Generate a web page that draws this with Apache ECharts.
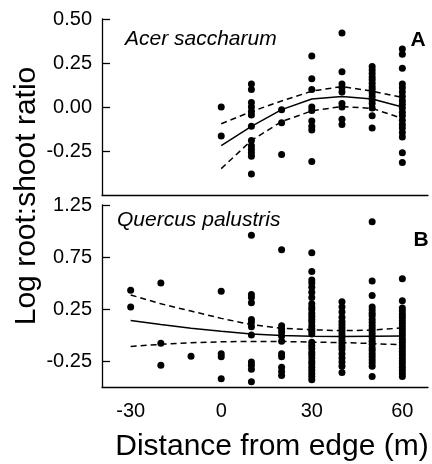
<!DOCTYPE html>
<html>
<head>
<meta charset="utf-8">
<script src="https://cdn.jsdelivr.net/npm/echarts@6/dist/echarts.min.js"></script>
<style>
  html, body { margin: 0; padding: 0; background: #fff; }
  #chart { width: 432px; height: 464px; }
</style>
</head>
<body>
<div id="chart"></div>
<script>
// ---------- Panel A: Acer saccharum ----------
const acerDistances = [0, 10, 20, 30, 40, 50, 60];
const acer0  = [0.00, -0.165];
const acer10 = [0.13, 0.10, 0.025, 0.0, -0.025, -0.045, -0.11, -0.19, -0.22, -0.24, -0.26, -0.28, -0.38];
const acer20 = [-0.015, -0.09, -0.27];
const acer30 = [0.29, 0.16, 0.10, 0.0, -0.02, -0.08, -0.11, -0.13, -0.31];
const acer40 = [0.42, 0.20, 0.13, 0.11, 0.085, 0.02, 0.0, -0.07, -0.10];
const acer50 = [0.23, 0.21, 0.19, 0.17, 0.155, 0.135, 0.115, 0.10, 0.08, 0.06, 0.04, 0.02, -0.005, -0.05, -0.12];
const acer60 = [0.33, 0.30, 0.22, 0.13, 0.11, 0.085, 0.06, 0.035, 0.015, -0.005, -0.03, -0.05, -0.075, -0.10, -0.12, -0.145, -0.17, -0.26, -0.315];
const acerColumns = [acer0, acer10, acer20, acer30, acer40, acer50, acer60];
const acerFit   = [-0.22, -0.11, -0.015, 0.045, 0.06, 0.045, 0.0];
const acerUpper = [-0.095, -0.026, 0.034, 0.09, 0.116, 0.09, 0.055];
const acerLower = [-0.35, -0.19, -0.083, -0.022, 0.003, -0.008, -0.065];

// ---------- Panel B: Quercus palustris ----------
const quercusDistances = [-30, -20, -10, 0, 10, 20, 30, 40, 50, 60];
const quercusM30 = [0.43, 0.27];
const quercusM20 = [0.50, -0.08, -0.29];
const quercusM10 = [-0.205];
const quercus0  = [0.42, -0.18, -0.21, -0.42];
const quercus10 = [0.96, 0.39, 0.36, 0.31, 0.15, 0.12, 0.08, 0.0, -0.26, -0.29, -0.33, -0.45];
const quercus20 = [0.82, 0.09, 0.06, 0.03, -0.01, -0.06, -0.18, -0.21, -0.31, -0.35, -0.39];
const quercus30 = [0.79, 0.61, 0.53, 0.50, 0.46, 0.41, 0.36, 0.30, 0.27, 0.245, 0.21, 0.18, 0.15, 0.125, 0.09, 0.06, 0.035, 0.01,
                   -0.07, -0.10, -0.13, -0.165, -0.19, -0.22, -0.255, -0.28, -0.31, -0.34, -0.37, -0.40, -0.43];
const quercus40 = [0.32, 0.27, 0.22, 0.17, 0.13, 0.10, 0.07, 0.04, 0.01, -0.02, -0.05, -0.08, -0.11, -0.14, -0.18, -0.22, -0.26, -0.30, -0.36];
const quercus50 = [1.09, 0.52, 0.38, 0.27, 0.24, 0.21, 0.185, 0.15, 0.12, 0.09, 0.06, 0.03, 0.0, -0.03, -0.06, -0.09, -0.125, -0.15, -0.18, -0.21, -0.24, -0.27, -0.30, -0.40];
const quercus60 = [0.54, 0.33, 0.26, 0.23, 0.20, 0.17, 0.14, 0.11, 0.08, 0.05, 0.02, -0.01, -0.04, -0.07, -0.10, -0.13, -0.16, -0.19, -0.22, -0.25, -0.28, -0.31, -0.34, -0.37, -0.40];
const quercusColumns = [quercusM30, quercusM20, quercusM10, quercus0, quercus10, quercus20, quercus30, quercus40, quercus50, quercus60];
const quercusFit   = [0.14, 0.10, 0.065, 0.035, 0.01, -0.005, -0.012, -0.015, -0.013, -0.01];
const quercusUpper = [0.385, 0.30, 0.23, 0.16, 0.10, 0.065, 0.05, 0.042, 0.047, 0.068];
const quercusLower = [-0.11, -0.09, -0.075, -0.065, -0.062, -0.062, -0.068, -0.073, -0.082, -0.095];

// ---------- Axis tick labels ----------
const xTickValues = [-30, 0, 30, 60];
const acerYTicks = [-0.25, 0, 0.25, 0.5];
const quercusYTicks = [-0.25, 0.25, 0.75, 1.25];

// ---------- build ----------
function points(dists, cols) {
  const out = [];
  dists.forEach((d, i) => cols[i].forEach(v => out.push([d, v])));
  return out;
}
function pairs(xs, ys) { return xs.map((x, i) => [x, ys[i]]); }

const FONT = 'Liberation Sans, Arial, sans-serif';
const chart = echarts.init(document.getElementById('chart'), null, { renderer: 'canvas' });

const yAxisBase = {
  type: 'value',
  axisLine: { show: true, onZero: false, lineStyle: { color: '#000', width: 1.3 } },
  axisTick: { show: true, inside: true, length: 8, lineStyle: { color: '#000', width: 1.3 } },
  axisLabel: { color: '#000', fontSize: 20, fontFamily: FONT, margin: 10, formatter: v => v.toFixed(2) },
  splitLine: { show: false }
};
const xAxisBase = {
  type: 'value', min: -39.5, max: 68.5,
  axisLine: { show: true, onZero: false, lineStyle: { color: '#000', width: 1.3 } },
  axisTick: { show: false },
  splitLine: { show: false }
};
const lineSolid = { color: '#000', width: 1.5, type: 'solid' };
const lineDash = { color: '#000', width: 1.5, type: [6, 4] };
const dotStyle = { color: '#000', opacity: 1 };

chart.setOption({
  animation: false,
  backgroundColor: '#fff',
  grid: [
    { left: 102, right: 4, top: 19, height: 176 },
    { left: 102, right: 4, top: 205, height: 182 }
  ],
  xAxis: [
    Object.assign({}, xAxisBase, { gridIndex: 0, axisLabel: { show: false } }),
    Object.assign({}, xAxisBase, {
      gridIndex: 1,
      axisLabel: { color: '#000', fontSize: 20, fontFamily: FONT, margin: 14, customValues: xTickValues },
      name: 'Distance from edge (m)', nameLocation: 'middle', nameGap: 45,
      nameTextStyle: { color: '#000', fontSize: 30, fontFamily: FONT, padding: [0, 0, 0, 14] }
    })
  ],
  yAxis: [
    Object.assign({}, yAxisBase, {
      gridIndex: 0, min: -0.5, max: 0.5,
      axisTick: Object.assign({}, yAxisBase.axisTick, { customValues: acerYTicks }),
      axisLabel: Object.assign({}, yAxisBase.axisLabel, { customValues: acerYTicks })
    }),
    Object.assign({}, yAxisBase, {
      gridIndex: 1, min: -0.5, max: 1.25,
      axisTick: Object.assign({}, yAxisBase.axisTick, { customValues: quercusYTicks }),
      axisLabel: Object.assign({}, yAxisBase.axisLabel, { customValues: quercusYTicks })
    })
  ],
  graphic: [
    { type: 'text', x: 27, y: 196, rotation: Math.PI / 2,
      style: { text: 'Log root:shoot ratio', x: 0, y: 0, fill: '#000', font: '30px ' + FONT, textAlign: 'center', textVerticalAlign: 'middle' } },
    { type: 'text', style: { text: 'Acer saccharum', x: 125, y: 39, fill: '#000', font: 'italic 21px ' + FONT, textVerticalAlign: 'middle' } },
    { type: 'text', style: { text: 'A', x: 418, y: 40, fill: '#000', font: 'bold 21px ' + FONT, textAlign: 'center', textVerticalAlign: 'middle' } },
    { type: 'text', style: { text: 'Quercus palustris', x: 117, y: 220, fill: '#000', font: 'italic 21px ' + FONT, textVerticalAlign: 'middle' } },
    { type: 'text', style: { text: 'B', x: 421, y: 240, fill: '#000', font: 'bold 21px ' + FONT, textAlign: 'center', textVerticalAlign: 'middle' } }
  ],
  series: [
    { type: 'scatter', xAxisIndex: 0, yAxisIndex: 0, data: points(acerDistances, acerColumns),
      symbol: 'circle', symbolSize: 7, itemStyle: dotStyle },
    { type: 'line', xAxisIndex: 0, yAxisIndex: 0, data: pairs(acerDistances, acerFit), showSymbol: false, lineStyle: lineSolid },
    { type: 'line', xAxisIndex: 0, yAxisIndex: 0, data: pairs(acerDistances, acerUpper), showSymbol: false, lineStyle: lineDash },
    { type: 'line', xAxisIndex: 0, yAxisIndex: 0, data: pairs(acerDistances, acerLower), showSymbol: false, lineStyle: lineDash },
    { type: 'scatter', xAxisIndex: 1, yAxisIndex: 1, data: points(quercusDistances, quercusColumns),
      symbol: 'circle', symbolSize: 7, itemStyle: dotStyle },
    { type: 'line', xAxisIndex: 1, yAxisIndex: 1, data: pairs(quercusDistances, quercusFit), showSymbol: false, lineStyle: lineSolid },
    { type: 'line', xAxisIndex: 1, yAxisIndex: 1, data: pairs(quercusDistances, quercusUpper), showSymbol: false, lineStyle: lineDash },
    { type: 'line', xAxisIndex: 1, yAxisIndex: 1, data: pairs(quercusDistances, quercusLower), showSymbol: false, lineStyle: lineDash }
  ]
});
</script>
</body>
</html>
